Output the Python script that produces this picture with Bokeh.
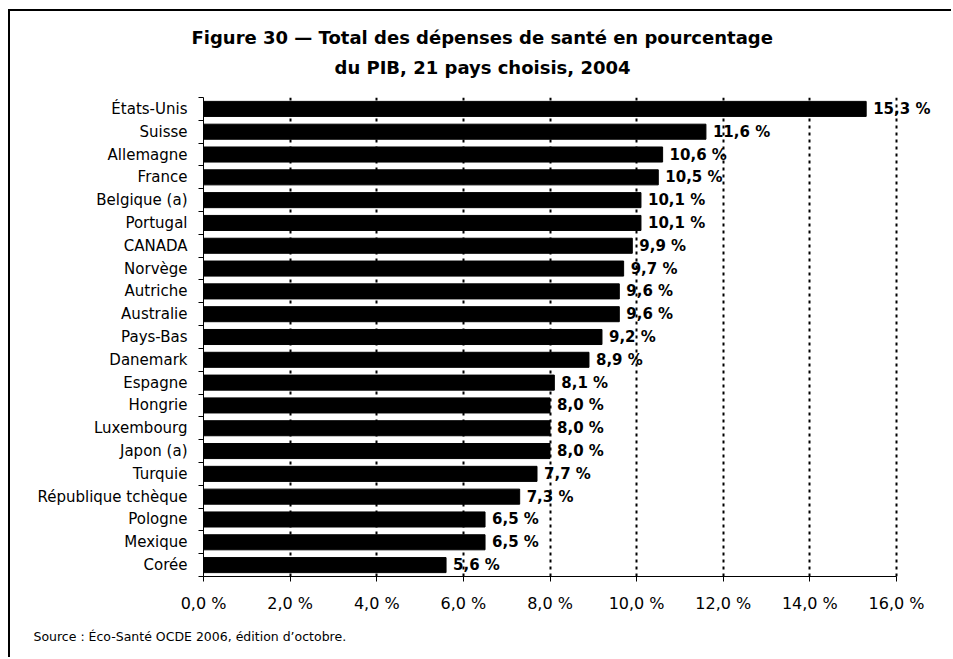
from bokeh.plotting import figure
from bokeh.models import FixedTicker, Range1d, LabelSet, ColumnDataSource, Title
from bokeh.core.properties import value
from bokeh.embed import file_html
from bokeh.resources import INLINE

countries = ["États-Unis", "Suisse", "Allemagne", "France", "Belgique (a)", "Portugal",
             "CANADA", "Norvège", "Autriche", "Australie", "Pays-Bas", "Danemark",
             "Espagne", "Hongrie", "Luxembourg", "Japon (a)", "Turquie",
             "République tchèque", "Pologne", "Mexique", "Corée"]
values = [15.3, 11.6, 10.6, 10.5, 10.1, 10.1, 9.9, 9.7, 9.6, 9.6, 9.2, 8.9,
          8.1, 8.0, 8.0, 8.0, 7.7, 7.3, 6.5, 6.5, 5.6]
x_ticks = [0, 2, 4, 6, 8, 10, 12, 14, 16]
x_tick_labels = ["0,0 %", "2,0 %", "4,0 %", "6,0 %", "8,0 %", "10,0 %", "12,0 %", "14,0 %", "16,0 %"]
title_lines = ["Figure 30 \u2014 Total des dépenses de santé en pourcentage",
               "du PIB, 21 pays choisis, 2004"]
source_text = "Source : Éco-Santé OCDE 2006, édition d\u2019octobre."

n = len(countries)
ypos = [n - 1 - i for i in range(n)]
labels = [("%.1f" % v).replace(".", ",") + " %" for v in values]
src = ColumnDataSource(dict(y=ypos, v=values, lab=labels))

W, H = 943, 648
ML, MR, MT, MB = 193, 8, 86, 83
axis_px = 693  # pixel length of the 0..16 axis
x_end = x_ticks[-1] * (W - ML - MR) / axis_px

p = figure(width=W, height=H, output_backend="svg", toolbar_location=None,
           x_range=Range1d(0, x_end), y_range=Range1d(-0.5, n - 0.5),
           min_border_left=ML, min_border_right=MR, min_border_top=MT, min_border_bottom=MB)
p.styles = {"margin-left": "8px", "margin-top": "9px",
            "border-left": "2px solid black", "border-top": "2px solid black"}
p.outline_line_color = None
p.background_fill_color = "white"
p.border_fill_color = "white"

# grid
p.xgrid.ticker = FixedTicker(ticks=x_ticks[1:])
p.xgrid.grid_line_color = "black"
p.xgrid.grid_line_width = 2
p.xgrid.grid_line_dash = "3 4"
p.ygrid.grid_line_color = None

p.hbar(y="y", right="v", left=0, height=0.66, source=src, color="black")

p.add_layout(LabelSet(x="v", y="y", text="lab", source=src, x_offset=7,
                      text_font=value("DejaVu Sans"), text_font_style="bold", text_font_size="15px",
                      text_baseline="middle", text_align="left", text_color="black"))

# x axis
p.xaxis.ticker = FixedTicker(ticks=x_ticks)
p.xaxis.bounds = (x_ticks[0], x_ticks[-1])
p.xaxis.major_label_overrides = {t: l for t, l in zip(x_ticks, x_tick_labels)}
p.xaxis.major_tick_out = 5
p.xaxis.major_tick_in = 0
p.xaxis.minor_tick_line_color = None
p.xaxis.major_label_standoff = 12
p.xaxis.major_label_text_font = "DejaVu Sans"
p.xaxis.major_label_text_font_size = "16px"
p.xaxis.major_label_text_color = "black"
p.xaxis.axis_line_color = "black"

# y axis
p.yaxis.ticker = FixedTicker(ticks=ypos, minor_ticks=[k - 0.5 for k in range(n + 1)])
p.yaxis.major_label_overrides = {y: c for y, c in zip(ypos, countries)}
p.yaxis.major_tick_line_color = None
p.yaxis.major_tick_out = 0
p.yaxis.major_tick_in = 0
p.yaxis.minor_tick_out = 5
p.yaxis.minor_tick_in = 0
p.yaxis.minor_tick_line_color = "black"
p.yaxis.major_label_standoff = 11
p.yaxis.major_label_text_font = "DejaVu Sans"
p.yaxis.major_label_text_font_size = "15px"
p.yaxis.major_label_text_color = "black"
p.yaxis.axis_line_color = "black"

# titles (nearest to the plot first)
p.add_layout(Title(text=title_lines[1], align="left", offset=131, standoff=35,
                   vertical_align="top",
                   text_font="DejaVu Sans", text_font_style="bold",
                   text_font_size="18px", text_color="black"), "above")
p.add_layout(Title(text=title_lines[0], align="left", offset=-12, standoff=-17,
                   vertical_align="bottom",
                   text_font="DejaVu Sans", text_font_style="bold",
                   text_font_size="18px", text_color="black"), "above")

p.add_layout(Title(text=source_text, align="left", offset=-170, standoff=26,
                   vertical_align="top",
                   text_font="DejaVu Sans", text_font_style="normal",
                   text_font_size="12.5px", text_color="black"), "below")

open("out.html", "w").write(file_html(p, INLINE))
